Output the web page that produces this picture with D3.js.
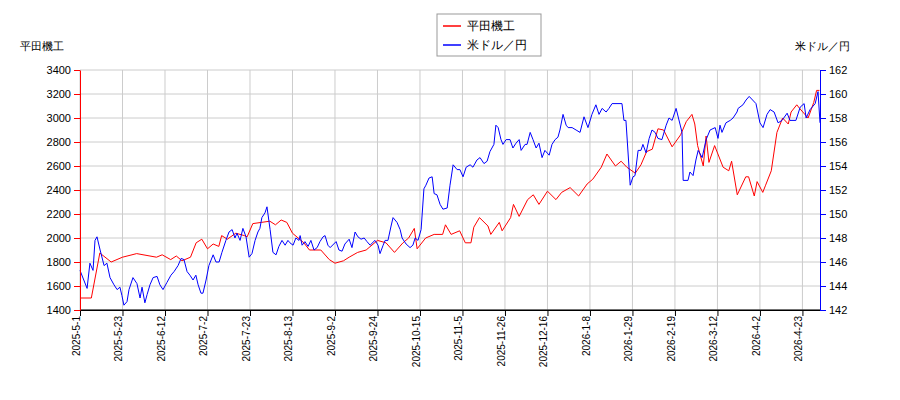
<!DOCTYPE html>
<html><head><meta charset="utf-8">
<script src="https://cdn.jsdelivr.net/npm/d3@7"></script>
<style>body{margin:0;background:#fff;font-family:"DejaVu Sans",sans-serif;}</style>
</head><body><div id="chart"></div>
<script>
// trading-day index -> value
var redSeries = [[0,1500],[4,1500],[7,1875],[11,1800],[15,1840],[20,1870],[27,1840],[29,1860],[32,1820],[34,1850],[36,1810],[39,1840],[41,1960],[43,1990],[45,1910],[47,1950],[49,1930],[50,2020],[52,1990],[55,2040],[58,2020],[59,2010],[61,2120],[64,2130],[67,2140],[69,2110],[71,2150],[73,2130],[75,2040],[79,1960],[81,1900],[85,1900],[88,1820],[90,1790],[93,1810],[95,1840],[98,1880],[101,1900],[105,1980],[108,1960],[111,1880],[114,1960],[116,2000],[118,2080],[119,1910],[122,2000],[125,2030],[128,2030],[129,2110],[131,2030],[134,2060],[136,1960],[138,1960],[139,2090],[141,2170],[144,2100],[145,2030],[148,2130],[149,2060],[152,2170],[153,2280],[155,2180],[158,2320],[160,2360],[162,2280],[165,2390],[168,2320],[170,2380],[173,2420],[176,2350],[179,2450],[181,2490],[184,2590],[186,2700],[189,2600],[191,2640],[193,2590],[196,2540],[198,2610],[200,2720],[202,2740],[204,2910],[206,2900],[209,2760],[212,2860],[214,2970],[216,3030],[217,2950],[218,2770],[220,2600],[221,2850],[222,2630],[224,2770],[227,2590],[229,2560],[230,2640],[232,2360],[235,2510],[236,2510],[238,2350],[239,2470],[241,2380],[242,2440],[244,2560],[246,2880],[248,3000],[250,2950],[251,3050],[253,3110],[254,3080],[257,3000],[259,3130],[260,3230],[261,3230]];
var blueSeries = [[0,145.3],[2.5,143.8],[3.5,145.9],[4.6,145.3],[5.3,147.8],[6,148.1],[7.1,147.0],[8.5,145.7],[9.5,145.9],[10.6,144.7],[12,144.1],[13.1,143.7],[14.1,143.9],[14.8,143.2],[15.5,142.4],[16.6,142.7],[17.3,143.7],[18.7,144.7],[20.1,144.2],[21.2,143.0],[21.9,143.9],[22.9,142.6],[23.7,143.3],[24.7,144.1],[25.8,144.7],[27.2,144.8],[28.2,144.1],[29.3,143.7],[30.7,144.3],[32.1,144.9],[33.2,145.2],[34.6,145.7],[35.7,146.3],[36.7,146.2],[37.8,145.2],[38.8,144.9],[39.9,144.5],[40.9,144.9],[41.7,144.1],[42.7,143.4],[43.4,143.4],[44.5,144.5],[45.5,145.7],[47,146.6],[48,146.0],[49.1,146.0],[50.1,146.8],[51.5,147.8],[52.6,148.5],[53.7,148.7],[54.7,148.0],[55.4,148.4],[56.5,147.8],[57.5,148.8],[58.6,148.1],[59.7,146.4],[60.7,146.7],[61.8,147.8],[62.8,148.5],[63.5,148.8],[64.2,149.7],[65.3,150.1],[66,150.6],[67.1,148.7],[68.1,146.8],[69.2,146.6],[70.2,147.3],[71.3,147.8],[72.4,147.4],[73.4,147.8],[74.1,147.6],[75.2,147.4],[76.2,148.0],[77.3,147.8],[77.7,148.2],[78.4,147.4],[79.4,147.7],[80.5,147.3],[81.5,147.8],[82.6,147.0],[83.7,147.2],[84.7,147.7],[85.8,148.1],[86.5,148.2],[87.5,147.4],[88.3,147.2],[90.4,147.7],[91.4,147.0],[92.5,146.9],[93.5,147.5],[95,147.9],[96,147.2],[97.1,148.5],[98.1,148.1],[99.2,147.9],[100.3,148.0],[101.3,147.7],[102.4,147.4],[104.1,147.8],[105.2,147.4],[105.9,146.7],[107,147.4],[107.7,147.8],[108.7,147.8],[109.8,149.0],[110.5,149.7],[111.9,149.3],[113,148.7],[113.7,148.0],[115.1,147.5],[116.5,147.2],[117.5,147.4],[118.3,148.0],[119.3,147.8],[120.4,148.7],[121.4,152.1],[122.1,152.4],[123.2,153.0],[124.3,153.1],[125,151.7],[126,151.6],[127.1,150.8],[128.1,150.4],[129.6,150.5],[130.6,152.4],[131.7,154.1],[133.1,153.7],[134.1,153.7],[135.2,153.1],[136.3,153.9],[137.7,154.1],[138.7,153.9],[140.1,154.5],[141.2,154.7],[142.6,154.2],[143.7,154.4],[144.7,155.2],[146.1,155.8],[146.8,157.4],[147.6,157.2],[148.6,156.2],[149.3,155.8],[150.4,156.2],[151.8,156.2],[152.8,155.5],[153.9,155.9],[155,156.2],[155.7,155.3],[157.1,155.8],[157.8,155.8],[158.9,156.8],[159.9,156.2],[161,155.5],[162,155.9],[163.1,154.7],[164.1,155.3],[165.6,154.9],[166.6,155.8],[167.7,156.2],[168.7,156.4],[169.4,157.0],[170.5,158.3],[171.6,157.4],[172.3,157.2],[173.7,157.2],[175.1,157.0],[176.5,156.8],[177.9,158.1],[179.3,157.2],[180.7,158.3],[182.1,159.1],[183.2,158.3],[184.3,158.8],[185.7,158.5],[186.7,158.8],[187.8,159.2],[191.3,159.2],[192,157.8],[192.7,157.8],[194.2,152.4],[195.2,153.1],[195.9,153.2],[197,155.3],[198,155.3],[198.7,155.8],[199.8,155.1],[200.9,156.3],[201.9,157.0],[203,156.8],[204,156.3],[205.4,156.2],[206.9,157.4],[207.9,158.0],[209,157.8],[210.4,158.8],[212.5,156.8],[212.9,152.8],[214.6,152.8],[215.3,153.5],[216.4,153.2],[217.4,154.5],[218.2,155.3],[219.6,154.7],[221,156.2],[222.4,157.0],[224.2,157.2],[225.2,156.3],[225.9,157.4],[226.6,156.8],[228,157.6],[229.5,157.8],[230.5,158.0],[231.9,158.5],[232.3,158.8],[234,159.1],[235.1,159.5],[236.2,159.8],[238.6,159.2],[240,157.6],[241.1,157.2],[242.5,158.3],[243.6,158.7],[245,158.5],[246.4,157.6],[247.8,157.8],[249.6,158.4],[250.6,157.8],[252.7,157.8],[254.2,158.9],[255.6,159.2],[256.3,158.0],[257.7,158.7],[259.5,159.2],[260.5,160.2],[261.2,157.6]];
var xTickLabels = ["2025-5-1","2025-5-23","2025-6-12","2025-7-2","2025-7-23","2025-8-13","2025-9-2","2025-9-24","2025-10-15","2025-11-5","2025-11-26","2025-12-16","2026-1-8","2026-1-29","2026-2-19","2026-3-12","2026-4-2","2026-4-23"];
var leftTicks = d3.range(1400, 3401, 200);
var rightTicks = d3.range(142, 163, 2);
var seriesNames = ["平田機工", "米ドル／円"];

var W = 900, H = 400, L = 80, R = 820, T = 70, B = 310;
var svg = d3.select("#chart").append("svg").attr("width", W).attr("height", H);
var x = d3.scaleLinear().domain([0, 261.2]).range([L, R]);
var yL = d3.scaleLinear().domain([1400, 3400]).range([B, T]);
var yR = d3.scaleLinear().domain([142, 162]).range([B, T]);

var g = svg.append("g");
g.selectAll(".gx").data(xTickLabels).enter().append("line")
  .attr("x1", (d,i) => x(i*15)).attr("x2", (d,i) => x(i*15))
  .attr("y1", T).attr("y2", B).attr("stroke", "#ccc");
g.selectAll(".gy").data(leftTicks).enter().append("line")
  .attr("x1", L).attr("x2", R).attr("y1", d => yL(d)).attr("y2", d => yL(d)).attr("stroke", "#ccc");

var lineR = d3.line().x(d => x(d[0])).y(d => yL(d[1]));
var lineB = d3.line().x(d => x(d[0])).y(d => yR(d[1]));
svg.append("path").datum(redSeries).attr("d", lineR).attr("fill", "none").attr("stroke", "red").attr("stroke-width", 1);
svg.append("path").datum(blueSeries).attr("d", lineB).attr("fill", "none").attr("stroke", "blue").attr("stroke-width", 1);

var ax = d3.axisBottom(x).tickValues(d3.range(0, xTickLabels.length).map(i => i*15))
  .tickFormat((d,i) => xTickLabels[i]).tickSizeOuter(0);
var gx = svg.append("g").attr("transform", "translate(0," + B + ")").call(ax);
gx.selectAll("text").attr("transform", "rotate(-90)").attr("text-anchor", "end")
  .attr("x", -6).attr("y", -4).attr("dy", "0.35em").style("font-size", "10px");
svg.append("line").attr("x1", L).attr("x2", R).attr("y1", B).attr("y2", B).attr("stroke", "#000");

var gl = svg.append("g").attr("transform", "translate(" + L + ",0)")
  .call(d3.axisLeft(yL).tickValues(leftTicks).tickFormat(d3.format("d")).tickSizeOuter(0));
gl.selectAll("line,path").attr("stroke", "red");
gl.selectAll("text").style("font-size", "11px").attr("fill", "#000");
var gr = svg.append("g").attr("transform", "translate(" + R + ",0)")
  .call(d3.axisRight(yR).tickValues(rightTicks).tickSizeOuter(0));
gr.selectAll("line,path").attr("stroke", "blue");
gr.selectAll("text").style("font-size", "11px").attr("fill", "#000");

svg.append("text").attr("x", 20).attr("y", 50).style("font-size", "11px").text(seriesNames[0]);
svg.append("text").attr("x", 850).attr("y", 50).attr("text-anchor", "end").style("font-size", "11px").text(seriesNames[1]);

var lg = svg.append("g").attr("transform", "translate(437,14)");
lg.append("rect").attr("width", 104).attr("height", 42).attr("fill", "#fff").attr("stroke", "#999");
["red", "blue"].forEach(function(c, i){
  lg.append("line").attr("x1", 6).attr("x2", 24).attr("y1", 12 + i*19).attr("y2", 12 + i*19).attr("stroke", c).attr("stroke-width", 1.5);
  lg.append("text").attr("x", 30).attr("y", 16 + i*19).style("font-size", "12px").text(seriesNames[i]);
});
</script></body></html>
